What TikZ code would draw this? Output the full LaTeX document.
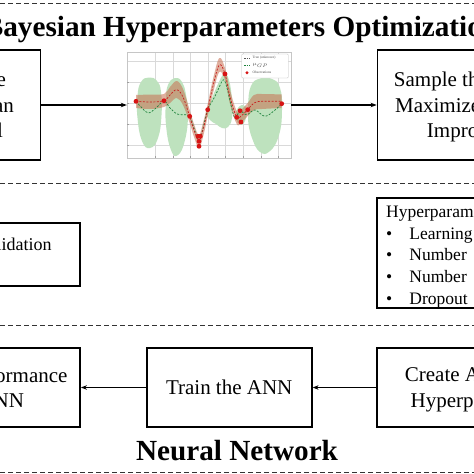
\documentclass[tikz,border=0pt]{standalone}
\usepackage{fontspec}
\setmainfont{Liberation Serif}
\usetikzlibrary{arrows.meta}
\definecolor{gpgreen}{RGB}{190,226,190}
\definecolor{gpband}{RGB}{200,110,80}
\definecolor{gpred}{RGB}{200,30,30}
\definecolor{gpline}{RGB}{30,130,60}
\definecolor{dotred}{RGB}{215,20,20}
\newcommand{\zdep}[1]{\raisebox{0pt}[\height][0pt]{#1}}
\begin{document}
\begin{tikzpicture}[x=1pt,y=-1pt,
  flowbox/.style={draw=black,line width=1.8pt,rectangle,inner sep=0pt,align=center,font=\fontsize{21}{25.5}\selectfont},
  plainbox/.style={draw=black,line width=1.8pt,rectangle,inner sep=0pt},
  sepline/.style={black!80,line width=0.9pt,dash pattern=on 5pt off 3pt},
  conn/.style={line width=1.4pt,-{Stealth[length=6pt,width=4.5pt]}},
  gridl/.style={gray!30,line width=0.35pt},
  tickl/.style={gray!75,line width=0.4pt},
  obs/.style={fill=dotred,draw=none},
  headline/.style={font=\bfseries\fontsize{29.2}{33}\selectfont,anchor=base,inner sep=0pt},
  legtext/.style={font=\fontsize{3.5}{4}\selectfont,text=black!70,anchor=west,inner sep=0.5pt}]
\useasboundingbox (0,0) rectangle (474,474);
\clip (0,0) rectangle (474,474);
\fill[white] (0,0) rectangle (474,474);

% separators
\draw[sepline] (0,3.5) -- (474,3.5);
\draw[sepline] (0,183) -- (474,183);
\draw[sepline] (0,325) -- (474,325);
\draw[sepline] (0,472) -- (474,472);

% titles
\node[headline] (bho) at (241,36) {Bayesian Hyperparameters Optimization};
\node[headline] (nn) at (237,460.5) {Neural Network};

% top row
\node[flowbox,minimum width=130pt,minimum height=110pt] (gauss) at (-24.5,105) {Update\\Gaussian\\\zdep{Model}};
\node[flowbox,minimum width=212pt,minimum height=110pt] (sample) at (483.5,105) {Sample the point that\\Maximizes Expected\\\zdep{Improvement}};
\node[minimum width=164pt,minimum height=106pt,inner sep=0pt] (plot) at (209,105) {};

% plot content
\begin{scope}
\foreach \gx in {155,172.7,190.3,207.7,225,242.7,260.7,278.3}
  \draw[gridl] (\gx,52.5) -- (\gx,157.5);
\foreach \gy in {61.3,82.3,103,124,144.7}
  \draw[gridl] (127.5,\gy) -- (290.5,\gy);
\fill[gpgreen] plot[smooth cycle,tension=0.8] coordinates {(137.5,96) (141,82) (149,77.5) (157,81) (161,92) (161.5,115) (158,138) (150,148) (142,141) (137.5,118)};
\fill[gpgreen] plot[smooth cycle,tension=0.8] coordinates {(166,100) (168,85) (175,78) (182,82) (186,95) (188,115) (185,140) (178,155) (171,150) (166,125)};
\fill[gpgreen] plot[smooth cycle,tension=0.7] coordinates {(206,112) (212,98) (218,84) (224,74) (229,80) (232,100) (232,118) (228,127) (222,128) (216,124) (210,120)};
\fill[gpgreen] plot[smooth cycle,tension=0.7] coordinates {(236,112) (242,105) (247,110) (244,123) (238,123)};
\fill[gpgreen] plot[smooth cycle,tension=0.8] coordinates {(248,105) (251,86) (260,78.5) (272,79) (280,88) (282,110) (279,135) (270,151) (260,152) (252,138) (248,120)};
\fill[gpband,fill opacity=0.55] plot[smooth,tension=0.6] coordinates {(136,95) (150,94.5) (164,94) (170,87) (176.7,81) (183,89) (189.7,110) (194,124) (199,135) (203.5,121) (207.7,104) (213,79) (219.3,58) (225,68) (230,90) (236.7,111) (241,110) (247.7,103) (254,95) (262,94) (281.7,94.5)}
  -- plot[smooth,tension=0.6] coordinates {(281.7,108) (262,109) (254,110) (247.7,116) (241,123) (236.7,124) (230,104) (225,80) (219.3,72) (213,93) (207.7,116) (203.5,135) (199,148) (194,137) (189.7,123) (183,105) (176.7,98) (170,103) (164,107) (150,109) (136,108)} -- cycle;
\draw[gpline,line width=0.7pt,dash pattern=on 2pt off 1.5pt] plot[smooth,tension=0.6] coordinates {(136,101.3) (142,108) (148.3,113) (156,108) (164,101) (170,108) (177,114) (183,114.7) (189.7,116.3) (194,128) (199,141) (203,128) (207.7,109.7) (213,100) (218,90) (223.3,79.7) (227,88) (231,105) (235,118) (240,111) (246.7,114.7) (255,110) (265,116.3) (275,110) (281.7,103.7)};
\draw[gpred,line width=0.7pt,dash pattern=on 2pt off 1.5pt] plot[smooth,tension=0.6] coordinates {(136,101.3) (150,102) (164,100.7) (170,95) (176.7,89.7) (183,97) (189.7,116.3) (194,130) (199,141) (203.5,128) (207.7,109.7) (213,86) (219.3,65) (225,74) (230,97) (236.7,117.3) (241,116) (247.7,109.7) (254,103) (262,101.3) (281.7,101.3)};
\foreach \ox/\oy in {136/101.3,164/100.7,189.7/116.3,198/136.3,200.3/136.3,199/141.3,199/146.3,207.7/109.7,225/74,236.7/117.3,240/110.7,241/122,247.7/109.7,281.7/103.7}
  \fill[obs] (\ox,\oy) circle (2.4pt);
\draw[gray!45,line width=0.4pt] (127,52) rectangle (291,158);
\foreach \gx in {155,172.7,190.3,207.7,225,242.7,260.7,278.3}
  \draw[tickl] (\gx,158) -- (\gx,156);
\foreach \gy in {82.3,103,124,144.7}
  \draw[tickl] (127,\gy) -- (129,\gy);
% legend
\node[draw=gray!50,fill=white,line width=0.3pt,rounded corners=1pt,minimum width=46.6pt,minimum height=24pt,inner sep=0pt] (legend) at (265,66) {};
\draw[black!65,line width=0.5pt,dash pattern=on 1.5pt off 1pt] (244,58) -- (250,58);
\node[legtext] (l1) at (252,58) {True (unknown)};
\draw[gpline,line width=0.5pt,dash pattern=on 1.5pt off 1pt] (244,65.3) -- (250,65.3);
\node[legtext] (l2) at (252,65.3) {$\mu_{GP}$};
\fill[obs] (247,72.7) circle (1.6pt);
\node[legtext] (l3) at (252,72.7) {Observations};
\end{scope}

\draw[conn] (gauss.east) -- (plot.west);
\draw[conn] (plot.east) -- (sample.west);

% middle row
\node[plainbox,minimum width=211pt,minimum height=63.3pt] (cvbox) at (-25.5,254.4) {};
\node[font=\fontsize{18}{21.8}\selectfont,anchor=base east,inner sep=0pt] (cvtext) at (51.7,250) {Cross-Validation};
\node[plainbox,minimum width=212pt,minimum height=110pt] (hpbox) at (483.3,253.3) {};
\node[font=\fontsize{17.5}{21.8}\selectfont,anchor=north west,inner sep=0pt,align=left] (hplist) at (386,205.7)
  {Hyperparameters:\\
   \makebox[23.3pt][l]{\textbullet}Learning rate\\
   \makebox[23.3pt][l]{\textbullet}Number\hspace{9pt}of layers\\
   \makebox[23.3pt][l]{\textbullet}Number\hspace{9pt}of neurons\\
   \makebox[23.3pt][l]{\textbullet}Dropout\hspace{9pt}rate};

% bottom row
\node[flowbox,minimum width=211pt,minimum height=78.4pt] (evalb) at (-25.5,387.5) {Evaluate Performance\\\zdep{of the ANN}};
\node[flowbox,minimum width=165pt,minimum height=78.4pt] (train) at (229.2,387.5) {Train the ANN};
\node[flowbox,minimum width=212pt,minimum height=78.4pt] (create) at (483,387.5) {Create ANN using\\\zdep{Hyperparameters}};
\draw[conn] (create.west) -- (train.east);
\draw[conn] (train.west) -- (evalb.east);
\end{tikzpicture}
\end{document}
